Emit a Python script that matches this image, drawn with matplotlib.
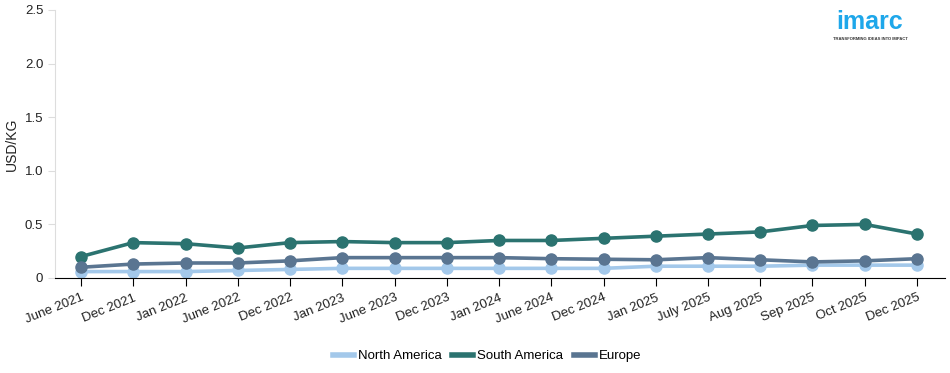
import matplotlib.pyplot as plt
import numpy as np

plt.rcParams['font.family'] = ['Liberation Sans', 'DejaVu Sans']

# data
months = ['June 2021', 'Dec 2021', 'Jan 2022', 'June 2022', 'Dec 2022', 'Jan 2023',
          'June 2023', 'Dec 2023', 'Jan 2024', 'June 2024', 'Dec 2024', 'Jan 2025',
          'July 2025', 'Aug 2025', 'Sep 2025', 'Oct 2025', 'Dec 2025']
north_america = [0.06, 0.06, 0.06, 0.07, 0.08, 0.09, 0.09, 0.09, 0.09, 0.09, 0.09,
                 0.11, 0.11, 0.11, 0.12, 0.12, 0.12]
south_america = [0.20, 0.33, 0.32, 0.28, 0.33, 0.34, 0.33, 0.33, 0.35, 0.35, 0.37,
                 0.39, 0.41, 0.43, 0.49, 0.50, 0.41]
europe = [0.10, 0.13, 0.14, 0.14, 0.16, 0.19, 0.19, 0.19, 0.19, 0.18, 0.175,
          0.17, 0.19, 0.17, 0.15, 0.16, 0.18]
y_ticks = [0, 0.5, 1.0, 1.5, 2.0, 2.5]
y_tick_labels = ['0', '0.5', '1.0', '1.5', '2.0', '2.5']

series = [('North America', north_america, '#a3c8ea'),
          ('South America', south_america, '#2b7370'),
          ('Europe', europe, '#5a7591')]

fig = plt.figure(figsize=(9.5, 3.73), dpi=100)
ax = fig.add_axes([55/950, 1 - 278/373, 890/950, 268/373])

x = np.arange(len(months))
for name, vals, col in series:
    ax.plot(x, vals, color=col, linewidth=2.6, marker='o', markersize=8,
            label=name, solid_capstyle='round')

ax.set_xlim(-0.498, len(months) - 1 + 0.536)
ax.set_ylim(0, 2.5)
ax.set_yticks(y_ticks)
ax.set_yticklabels(y_tick_labels)
ax.set_xticks(x)
ax.set_xticklabels(months, rotation=22, ha='right', rotation_mode='anchor')

for s in ['top', 'right']:
    ax.spines[s].set_visible(False)
ax.spines['left'].set_color('#dddddd')
ax.spines['bottom'].set_color('black')
ax.tick_params(axis='y', length=5, color='#dddddd', labelsize=9.5, labelcolor='#222222')
ax.tick_params(axis='x', length=6, color='black', labelsize=9.5, labelcolor='#222222', pad=4)

# y-axis title, placed on the figure so it sits where the reference has it
fig.text(12/950, 1 - 144/373, 'USD/KG', fontsize=10, color='#222222',
         rotation=90, ha='center', va='center')

handles = [plt.Line2D([], [], color=c, linewidth=4) for _, _, c in series]
fig.legend(handles, [n for n, _, _ in series], loc='center', bbox_to_anchor=(487/950, 1 - 356/373),
           ncol=3, frameon=False, fontsize=9.5, handlelength=1.6, handletextpad=0.3,
           columnspacing=0.8)

# logo
fig.text(870/950, 1 - 22/373, 'imarc', color='#1ea7ea', fontsize=18, fontweight='bold',
         ha='center', va='center')
fig.text(870/950, 1 - 39/373, 'TRANSFORMING IDEAS INTO IMPACT', color='#333333',
         fontsize=3.0, fontweight='bold', ha='center', va='center')

fig.savefig('out.png', dpi=100)
